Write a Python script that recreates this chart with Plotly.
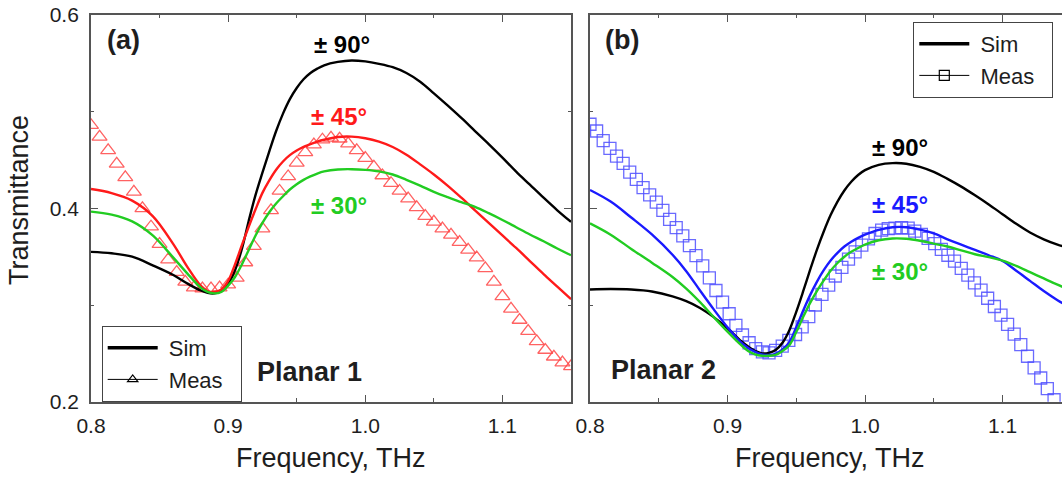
import plotly.graph_objects as go

# ---------------- data ----------------
# Panel (a) "Planar 1" : simulations (black ±90°, red ±45°, green ±30°)
freq_sim_a = [0.80, 0.815, 0.83, 0.845, 0.86, 0.87, 0.88, 0.885, 0.89, 0.895,
              0.90, 0.905, 0.91, 0.915, 0.92, 0.925, 0.93, 0.935, 0.94, 0.945,
              0.95, 0.955, 0.96, 0.965, 0.97, 0.98, 0.99, 1.00, 1.01, 1.02,
              1.03, 1.04, 1.05, 1.06, 1.07, 1.08, 1.09, 1.10, 1.11, 1.12,
              1.13, 1.14, 1.15]
sim90_a = [0.355, 0.3535, 0.350, 0.341, 0.331, 0.3225, 0.315, 0.3125, 0.312, 0.3145,
           0.322, 0.336, 0.358, 0.387, 0.414, 0.437, 0.459, 0.480, 0.498, 0.513,
           0.5245, 0.5335, 0.540, 0.5445, 0.548, 0.5515, 0.553, 0.552, 0.5495, 0.546,
           0.540, 0.531, 0.519, 0.5065, 0.4935, 0.480, 0.4665, 0.4525, 0.438, 0.4245,
           0.411, 0.398, 0.386]
sim45_a = [0.420, 0.4158, 0.408, 0.392, 0.363, 0.340, 0.320, 0.3145, 0.3135, 0.316,
           0.325, 0.342, 0.362, 0.381, 0.399, 0.416, 0.429, 0.440, 0.4485, 0.455,
           0.4598, 0.4635, 0.4665, 0.469, 0.471, 0.4738, 0.4742, 0.4725, 0.469, 0.4635,
           0.4555, 0.4455, 0.435, 0.4235, 0.411, 0.398, 0.385, 0.372, 0.359, 0.3455,
           0.332, 0.319, 0.306]
sim30_a = [0.3966, 0.3935, 0.3865, 0.372, 0.349, 0.333, 0.318, 0.3135, 0.312, 0.3135,
           0.320, 0.329, 0.342, 0.357, 0.372, 0.385, 0.396, 0.405, 0.4125, 0.4195,
           0.4250, 0.4295, 0.433, 0.436, 0.4382, 0.4402, 0.4405, 0.4398, 0.4382, 0.435,
           0.4295, 0.4235, 0.417, 0.4115, 0.4065, 0.4015, 0.395, 0.388, 0.3805, 0.373,
           0.366, 0.3585, 0.3515]

# Panel (a) measurement (triangles)
freq_meas_a = [0.8, 0.80625, 0.8125, 0.81875, 0.825, 0.83125, 0.8375, 0.84375, 0.85, 0.85625,
               0.8625, 0.86875, 0.875, 0.88125, 0.8875, 0.89375, 0.9, 0.90625, 0.9125, 0.91875,
               0.925, 0.93125, 0.9375, 0.94375, 0.95, 0.95625, 0.9625, 0.96875, 0.975, 0.98125,
               0.9875, 0.99375, 1.0, 1.00625, 1.0125, 1.01875, 1.025, 1.03125, 1.0375, 1.04375,
               1.05, 1.05625, 1.0625, 1.06875, 1.075, 1.08125, 1.0875, 1.09375, 1.1, 1.10625,
               1.1125, 1.11875, 1.125, 1.13125, 1.1375, 1.14375, 1.15]
meas_a = [0.486, 0.474, 0.460, 0.446, 0.432, 0.417, 0.400, 0.381, 0.363, 0.347,
          0.334, 0.324, 0.318, 0.317, 0.317, 0.318, 0.321, 0.328, 0.344, 0.361,
          0.379, 0.398, 0.418, 0.433, 0.447, 0.458, 0.466, 0.471, 0.473, 0.472,
          0.467, 0.460, 0.452, 0.443, 0.434, 0.426, 0.418, 0.410, 0.401, 0.392,
          0.386, 0.379, 0.3725, 0.365, 0.357, 0.349, 0.338, 0.324, 0.309, 0.296,
          0.2845, 0.273, 0.2625, 0.2535, 0.2465, 0.2405, 0.2365]

# Panel (b) "Planar 2" : simulations (black ±90°, blue ±45°, green ±30°)
freq_sim_b = [0.80, 0.815, 0.83, 0.845, 0.86, 0.87, 0.88, 0.89, 0.90, 0.91,
              0.915, 0.92, 0.925, 0.93, 0.935, 0.94, 0.945, 0.95, 0.955, 0.96,
              0.965, 0.97, 0.975, 0.98, 0.985, 0.99, 0.995, 1.00, 1.01, 1.02,
              1.03, 1.04, 1.05, 1.06, 1.07, 1.08, 1.09, 1.10, 1.11, 1.12,
              1.13, 1.14, 1.15]
sim90_b = [0.316, 0.3165, 0.316, 0.314, 0.309, 0.304, 0.297, 0.2875, 0.276, 0.2625,
           0.257, 0.2525, 0.250, 0.2505, 0.2535, 0.261, 0.274, 0.293, 0.314, 0.336,
           0.357, 0.376, 0.393, 0.407, 0.4185, 0.4275, 0.4345, 0.4395, 0.4450, 0.4468,
           0.4462, 0.443, 0.4378, 0.4305, 0.4225, 0.4135, 0.404, 0.394, 0.384, 0.375,
           0.368, 0.3625, 0.358]
sim45_b = [0.419, 0.407, 0.3905, 0.373, 0.352, 0.335, 0.315, 0.2955, 0.277, 0.261,
           0.2555, 0.2515, 0.249, 0.2483, 0.2495, 0.254, 0.2615, 0.277, 0.294, 0.310,
           0.324, 0.336, 0.346, 0.354, 0.3605, 0.3655, 0.3695, 0.3728, 0.3778, 0.3805,
           0.3805, 0.378, 0.374, 0.368, 0.3625, 0.357, 0.3515, 0.3455, 0.3355, 0.325,
           0.3145, 0.305, 0.2965]
sim30_b = [0.3845, 0.3728, 0.358, 0.3438, 0.329, 0.317, 0.303, 0.2875, 0.2725, 0.2585,
           0.2525, 0.249, 0.2475, 0.2475, 0.2485, 0.2525, 0.2585, 0.272, 0.2875, 0.302,
           0.3145, 0.3255, 0.3355, 0.3435, 0.3500, 0.3550, 0.3590, 0.3625, 0.3670, 0.3688,
           0.3685, 0.3665, 0.3635, 0.3605, 0.3565, 0.3525, 0.3495, 0.346, 0.3405, 0.334,
           0.3275, 0.321, 0.315]

# Panel (b) measurement (squares)
freq_meas_b = [0.8, 0.8048, 0.8096, 0.8145, 0.8193, 0.8241, 0.8289, 0.8337, 0.8386, 0.8434,
               0.8482, 0.853, 0.8579, 0.8627, 0.8675, 0.8723, 0.8771, 0.882, 0.8868, 0.8916,
               0.8964, 0.9012, 0.9061, 0.9109, 0.9157, 0.9205, 0.9254, 0.9302, 0.935, 0.9398,
               0.9446, 0.9495, 0.9543, 0.9591, 0.9639, 0.9687, 0.9736, 0.9784, 0.9832, 0.988,
               0.9928, 0.9977, 1.0025, 1.0073, 1.0121, 1.0169, 1.0218, 1.0266, 1.0314, 1.0362,
               1.041, 1.0459, 1.0507, 1.0555, 1.0603, 1.0651, 1.07, 1.0748, 1.0796, 1.0844,
               1.0892, 1.0941, 1.0989, 1.1037, 1.1085, 1.1133, 1.1182, 1.123, 1.1278, 1.1326,
               1.1375]
meas_b = [0.487, 0.480, 0.470, 0.462, 0.454, 0.4465, 0.4375, 0.430, 0.4215, 0.414,
          0.4065, 0.398, 0.3885, 0.380, 0.3715, 0.3615, 0.351, 0.3405, 0.328, 0.315,
          0.303, 0.291, 0.279, 0.269, 0.261, 0.255, 0.2515, 0.2505, 0.253, 0.2575,
          0.2635, 0.2695, 0.2775, 0.288, 0.300, 0.311, 0.3205, 0.330, 0.339, 0.3475,
          0.355, 0.362, 0.3685, 0.374, 0.3775, 0.379, 0.3795, 0.380, 0.3795, 0.3765,
          0.373, 0.369, 0.3635, 0.3575, 0.3515, 0.3455, 0.338, 0.331, 0.323, 0.3155,
          0.307, 0.2985, 0.2895, 0.280, 0.270, 0.259, 0.247, 0.235, 0.2245, 0.2135,
          0.202]

x_ticks = [0.8, 0.9, 1.0, 1.1]
x_tick_text = ["0.8", "0.9", "1.0", "1.1"]
y_ticks = [0.2, 0.4, 0.6]
y_tick_text = ["0.2", "0.4", "0.6"]

# ---------------- styling ----------------
W, H = 1062, 477
FONT = "Arial, 'Liberation Sans', sans-serif"
TXT = "#1e1e1e"
AXC = "#555555"
BLACK = "#000000"
RED = "#ff1a1a"
GREEN = "#22cc22"
BLUE = "#1a1aff"
TRI = "rgba(255,70,70,0.85)"
SQ = "rgba(80,80,255,0.85)"


def px(xp):
    return xp / W


def py(yp):
    return (H - yp) / H


fig = go.Figure()

# panel (a)
fig.add_trace(go.Scatter(x=freq_meas_a, y=meas_a, mode="markers", xaxis="x", yaxis="y",
                         marker=dict(symbol="triangle-up-open", size=13, color=TRI,
                                     line=dict(width=1.3, color=TRI)), showlegend=False))
for ys, col in [(sim90_a, BLACK), (sim45_a, RED), (sim30_a, GREEN)]:
    fig.add_trace(go.Scatter(x=freq_sim_a, y=ys, mode="lines", xaxis="x", yaxis="y",
                             line=dict(color=col, width=2.4, shape="spline", smoothing=1.0),
                             showlegend=False))

# panel (b)
fig.add_trace(go.Scatter(x=freq_meas_b, y=meas_b, mode="markers", xaxis="x2", yaxis="y2",
                         marker=dict(symbol="square-open", size=12, color=SQ,
                                     line=dict(width=1.3, color=SQ)), showlegend=False))
for ys, col in [(sim90_b, BLACK), (sim45_b, BLUE), (sim30_b, GREEN)]:
    fig.add_trace(go.Scatter(x=freq_sim_b, y=ys, mode="lines", xaxis="x2", yaxis="y2",
                             line=dict(color=col, width=2.4, shape="spline", smoothing=1.0),
                             showlegend=False))

# legend entries
NB = "\u00a0"
fig.add_trace(go.Scatter(x=[None], y=[None], mode="lines", name=NB + "Sim", legend="legend",
                         line=dict(color=BLACK, width=3.5)))
fig.add_trace(go.Scatter(x=[None], y=[None], mode="lines+markers", name=NB + "Meas" + NB * 2,
                         legend="legend", line=dict(color=BLACK, width=1),
                         marker=dict(symbol="triangle-up-open", size=9, color=BLACK,
                                     line=dict(width=1.2, color=BLACK))))
fig.add_trace(go.Scatter(x=[None], y=[None], mode="lines", name=NB + "Sim", legend="legend2",
                         xaxis="x2", yaxis="y2", line=dict(color=BLACK, width=3.5)))
fig.add_trace(go.Scatter(x=[None], y=[None], mode="lines+markers", name=NB + "Meas" + NB * 2,
                         legend="legend2", xaxis="x2", yaxis="y2",
                         line=dict(color=BLACK, width=1),
                         marker=dict(symbol="square-open", size=10, color=BLACK,
                                     line=dict(width=1.2, color=BLACK))))

y_dom = [py(401.7), py(15)]
common_x = dict(tickmode="array", tickvals=x_ticks, ticktext=x_tick_text, ticks="inside",
                ticklen=7, tickwidth=1.2, tickcolor=AXC, showline=True, linecolor=AXC,
                linewidth=1.8, mirror="allticks", showgrid=False, zeroline=False,
                automargin=False,
                minor=dict(ticks="inside", ticklen=3.5, tickwidth=1.2, tickcolor=AXC, dtick=0.05,
                           tick0=0.8, showgrid=False),
                tickfont=dict(family=FONT, size=21, color=TXT), ticklabelstandoff=4)
common_y = dict(range=[0.2, 0.6], domain=y_dom, tickmode="array", tickvals=y_ticks,
                ticktext=y_tick_text, ticks="inside", ticklen=7, tickwidth=1.2, tickcolor=AXC,
                showline=True, linecolor=AXC, linewidth=1.8, showgrid=False, zeroline=False,
                automargin=False,
                minor=dict(ticks="inside", ticklen=3.5, tickwidth=1.2, tickcolor=AXC, dtick=0.1,
                           tick0=0.2, showgrid=False),
                tickfont=dict(family=FONT, size=21, color=TXT), ticklabelstandoff=6)

fig.update_layout(
    width=W, height=H, margin=dict(l=0, r=0, t=0, b=0, pad=0, autoexpand=False),
    paper_bgcolor="white", plot_bgcolor="white",
    xaxis=dict(common_x, domain=[px(91), px(571)], range=[0.8, 1.15], anchor="y"),
    yaxis=dict(common_y, anchor="x", mirror="allticks"),
    xaxis2=dict(common_x, domain=[px(590), 1.0], range=[0.8, 0.8 + 472 / 1375], anchor="y2"),
    yaxis2=dict(common_y, anchor="x2", mirror=False, showticklabels=False),
    legend=dict(x=px(101.7), y=py(326), xanchor="left", yanchor="top",
                bgcolor="white", bordercolor="#444", borderwidth=1,
                font=dict(family=FONT, size=22, color=TXT), itemwidth=50,
                tracegroupgap=0),
    legend2=dict(x=px(913.3), y=py(22), xanchor="left", yanchor="top",
                 bgcolor="white", bordercolor="#444", borderwidth=1,
                 font=dict(family=FONT, size=22, color=TXT), itemwidth=50,
                 tracegroupgap=0),
    showlegend=True,
)

ann = []


def label(text, xp, yp, size=23, color=TXT, bold=True, angle=0):
    t = f"<b>{text}</b>" if bold else text
    ann.append(dict(text=t, x=px(xp), y=py(yp), xref="paper", yref="paper",
                    xanchor="center", yanchor="middle", showarrow=False, textangle=angle,
                    font=dict(family=FONT, size=size, color=color)))


label("(a)", 123, 40, size=27)
label("± 90°", 342, 44, size=24, color=BLACK)
label("± 45°", 339, 117, size=24, color=RED)
label("± 30°", 339, 205, size=24, color=GREEN)
label("Planar 1", 309, 372, size=27)
label("(b)", 622, 40, size=27)
label("± 90°", 900, 147, size=24, color=BLACK)
label("± 45°", 900, 204, size=24, color=BLUE)
label("± 30°", 900, 271, size=24, color=GREEN)
label("Planar 2", 663, 370, size=27)
label("Frequency, THz", 331, 458, size=27, bold=False)
label("Frequency, THz", 830, 458, size=27, bold=False)
label("Transmittance", 19, 200, size=27, bold=False, angle=-90)
fig.update_layout(annotations=ann)

fig.write_html("out.html")
